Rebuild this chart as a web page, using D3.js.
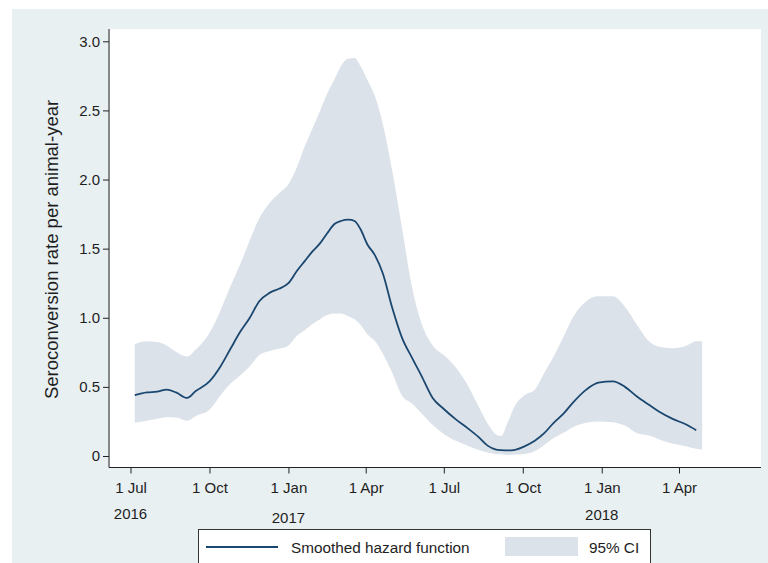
<!DOCTYPE html>
<html>
<head>
<meta charset="utf-8">
<script src="https://cdn.jsdelivr.net/npm/d3@7"></script>
<style>
  body { margin: 0; background: #fff; }
  text { font-family: "Liberation Sans", Arial, sans-serif; fill: #1e1e1e; }
</style>
</head>
<body>
<div id="chart"></div>
<script>
// smoothed hazard with 95% CI

var dates = ["2016-07-06","2016-07-20","2016-08-01","2016-08-12","2016-08-23","2016-09-05","2016-09-15",
  "2016-10-01","2016-10-14","2016-10-25","2016-11-06","2016-11-17","2016-11-28","2016-12-10","2016-12-21",
  "2017-01-01","2017-01-11","2017-01-20","2017-01-29","2017-02-07","2017-02-15","2017-02-24","2017-03-03",
  "2017-03-12","2017-03-19","2017-03-26","2017-04-03","2017-04-12","2017-04-21","2017-05-02","2017-05-13",
  "2017-05-25","2017-06-05","2017-06-18","2017-07-01","2017-07-15","2017-07-29","2017-08-10","2017-08-21",
  "2017-08-30","2017-09-06","2017-09-13","2017-09-22","2017-10-03","2017-10-15","2017-10-26","2017-11-06",
  "2017-11-18","2017-11-29","2017-12-14","2017-12-28","2018-01-14","2018-01-28","2018-02-11","2018-02-25",
  "2018-03-09","2018-03-24","2018-04-10","2018-04-21","2018-04-28"];

var hazard = [0.44,0.46,0.465,0.48,0.46,0.42,0.47,
  0.54,0.65,0.77,0.90,1.00,1.12,1.18,1.21,
  1.25,1.34,1.41,1.48,1.54,1.61,1.68,1.70,
  1.71,1.70,1.64,1.53,1.45,1.32,1.07,0.86,
  0.71,0.58,0.42,0.34,0.265,0.20,0.14,0.075,
  0.048,0.042,0.04,0.045,0.07,0.11,0.165,0.24,
  0.31,0.39,0.48,0.53,0.54,0.50,0.43,0.37,
  0.32,0.27,0.226,0.187,null];

var ciUpper = [0.81,0.83,0.825,0.80,0.755,0.72,0.77,
  0.89,1.055,1.22,1.39,1.56,1.72,1.83,1.90,
  1.965,2.09,2.24,2.37,2.50,2.62,2.73,2.82,
  2.875,2.88,2.82,2.72,2.60,2.40,2.06,1.66,
  1.22,0.96,0.80,0.73,0.64,0.51,0.365,0.235,
  0.16,0.145,0.235,0.365,0.44,0.48,0.60,0.72,
  0.87,1.01,1.12,1.155,1.155,1.08,0.95,0.83,
  0.79,0.78,0.80,0.83,0.83];

var ciLower = [0.24,0.255,0.27,0.28,0.278,0.255,0.29,
  0.335,0.44,0.52,0.585,0.65,0.73,0.76,0.775,
  0.80,0.87,0.91,0.955,0.99,1.02,1.03,1.03,
  1.01,0.99,0.95,0.88,0.83,0.74,0.60,0.44,
  0.38,0.31,0.225,0.16,0.11,0.075,0.045,0.025,
  0.015,0.012,0.008,0.01,0.015,0.035,0.08,0.13,
  0.17,0.21,0.24,0.25,0.245,0.22,0.165,0.148,
  0.12,0.09,0.068,0.052,0.047];

var xTicks = ["2016-07-01","2016-10-01","2017-01-01","2017-04-01","2017-07-01","2017-10-01","2018-01-01","2018-04-01"];
var xTickLabels = ["1 Jul","1 Oct","1 Jan","1 Apr","1 Jul","1 Oct","1 Jan","1 Apr"];
var yearTicks = ["2016-07-01","2017-01-01","2018-01-01"];
var yearLabels = ["2016","2017","2018"];
var yTicks = [0, 0.5, 1, 1.5, 2, 2.5, 3];

var w = 768, h = 563;
var parse = d3.timeParse("%Y-%m-%d");

var svg = d3.select("#chart").append("svg")
  .attr("width", w)
  .attr("height", h);

// outer graph region
svg.append("rect").attr("x", 12).attr("y", 9)
  .attr("width", w - 12).attr("height", h - 9)
  .attr("fill", "#e9f0f2");

// plot region
var plotL = 110, plotR = 761, plotT = 29, plotB = 467.5;
svg.append("rect").attr("x", plotL).attr("y", plotT)
  .attr("width", plotR - plotL).attr("height", plotB - plotT)
  .attr("fill", "#fff");

var x = d3.scaleTime()
  .domain([parse("2016-07-01"), parse("2018-04-01")])
  .range([130.5, 679]);

var y = d3.scaleLinear()
  .domain([0, 3])
  .range([456, 41.3]);

var data = dates.map(function(d, i) {
  return { date: parse(d), h: hazard[i], lo: ciLower[i], hi: ciUpper[i] };
});

var area = d3.area()
  .x(function(d) { return x(d.date); })
  .y0(function(d) { return y(d.lo); })
  .y1(function(d) { return y(d.hi); })
  .curve(d3.curveMonotoneX);

svg.append("path").datum(data)
  .attr("d", area)
  .attr("fill", "#dce2e9");

var line = d3.line()
  .defined(function(d) { return d.h != null; })
  .x(function(d) { return x(d.date); })
  .y(function(d) { return y(d.h); })
  .curve(d3.curveMonotoneX);

svg.append("path").datum(data)
  .attr("d", line)
  .attr("fill", "none")
  .attr("stroke", "#1a476f")
  .attr("stroke-width", 1.8);

// y axis
var yAxis = d3.axisLeft(y)
  .tickValues(yTicks)
  .tickSize(6)
  .tickPadding(3)
  .tickFormat(function(d) { return d === 0 ? "0" : d3.format(".1f")(d); });

var gy = svg.append("g")
  .attr("transform", "translate(" + (plotL - 1) + ",0)")
  .call(yAxis);
gy.select(".domain").attr("d", "M0," + plotT + "V" + plotB);
gy.selectAll("text").style("font-size", "15px");

// x axis
var xAxis = d3.axisBottom(x)
  .tickValues(xTicks.map(parse))
  .tickSize(6)
  .tickPadding(9)
  .tickFormat(function(d, i) { return xTickLabels[i]; });

var gx = svg.append("g")
  .attr("transform", "translate(0," + plotB + ")")
  .call(xAxis);
gx.select(".domain").attr("d", "M" + (plotL - 1) + ",0H" + plotR);
gx.selectAll("text").style("font-size", "15px");

svg.selectAll(".domain, .tick line").attr("stroke", "#222");

var yearDy = [519, 523, 520];
svg.selectAll("text.year")
  .data(yearLabels)
  .enter()
  .append("text")
  .attr("class", "year")
  .attr("x", function(d, i) { return x(parse(yearTicks[i])); })
  .attr("y", function(d, i) { return yearDy[i]; })
  .attr("text-anchor", "middle")
  .style("font-size", "15px")
  .text(function(d) { return d; });

// y title
svg.append("text")
  .attr("transform", "translate(58,249.5) rotate(-90)")
  .attr("text-anchor", "middle")
  .style("font-size", "18.5px")
  .text("Seroconversion rate per animal-year");

// legend
var lg = svg.append("g");
lg.append("rect").attr("x", 198.5).attr("y", 529.5)
  .attr("width", 452).attr("height", 50)
  .attr("fill", "#fff").attr("stroke", "#333");
lg.append("line").attr("x1", 206).attr("x2", 278)
  .attr("y1", 547).attr("y2", 547)
  .attr("stroke", "#1a476f").attr("stroke-width", 1.8);
lg.append("text").attr("x", 291).attr("y", 552.5)
  .style("font-size", "15.3px").text("Smoothed hazard function");
lg.append("rect").attr("x", 505).attr("y", 537)
  .attr("width", 73).attr("height", 19)
  .attr("fill", "#dce2e9");
lg.append("text").attr("x", 589).attr("y", 552.5)
  .style("font-size", "15.3px").text("95% CI");
</script>
</body>
</html>
